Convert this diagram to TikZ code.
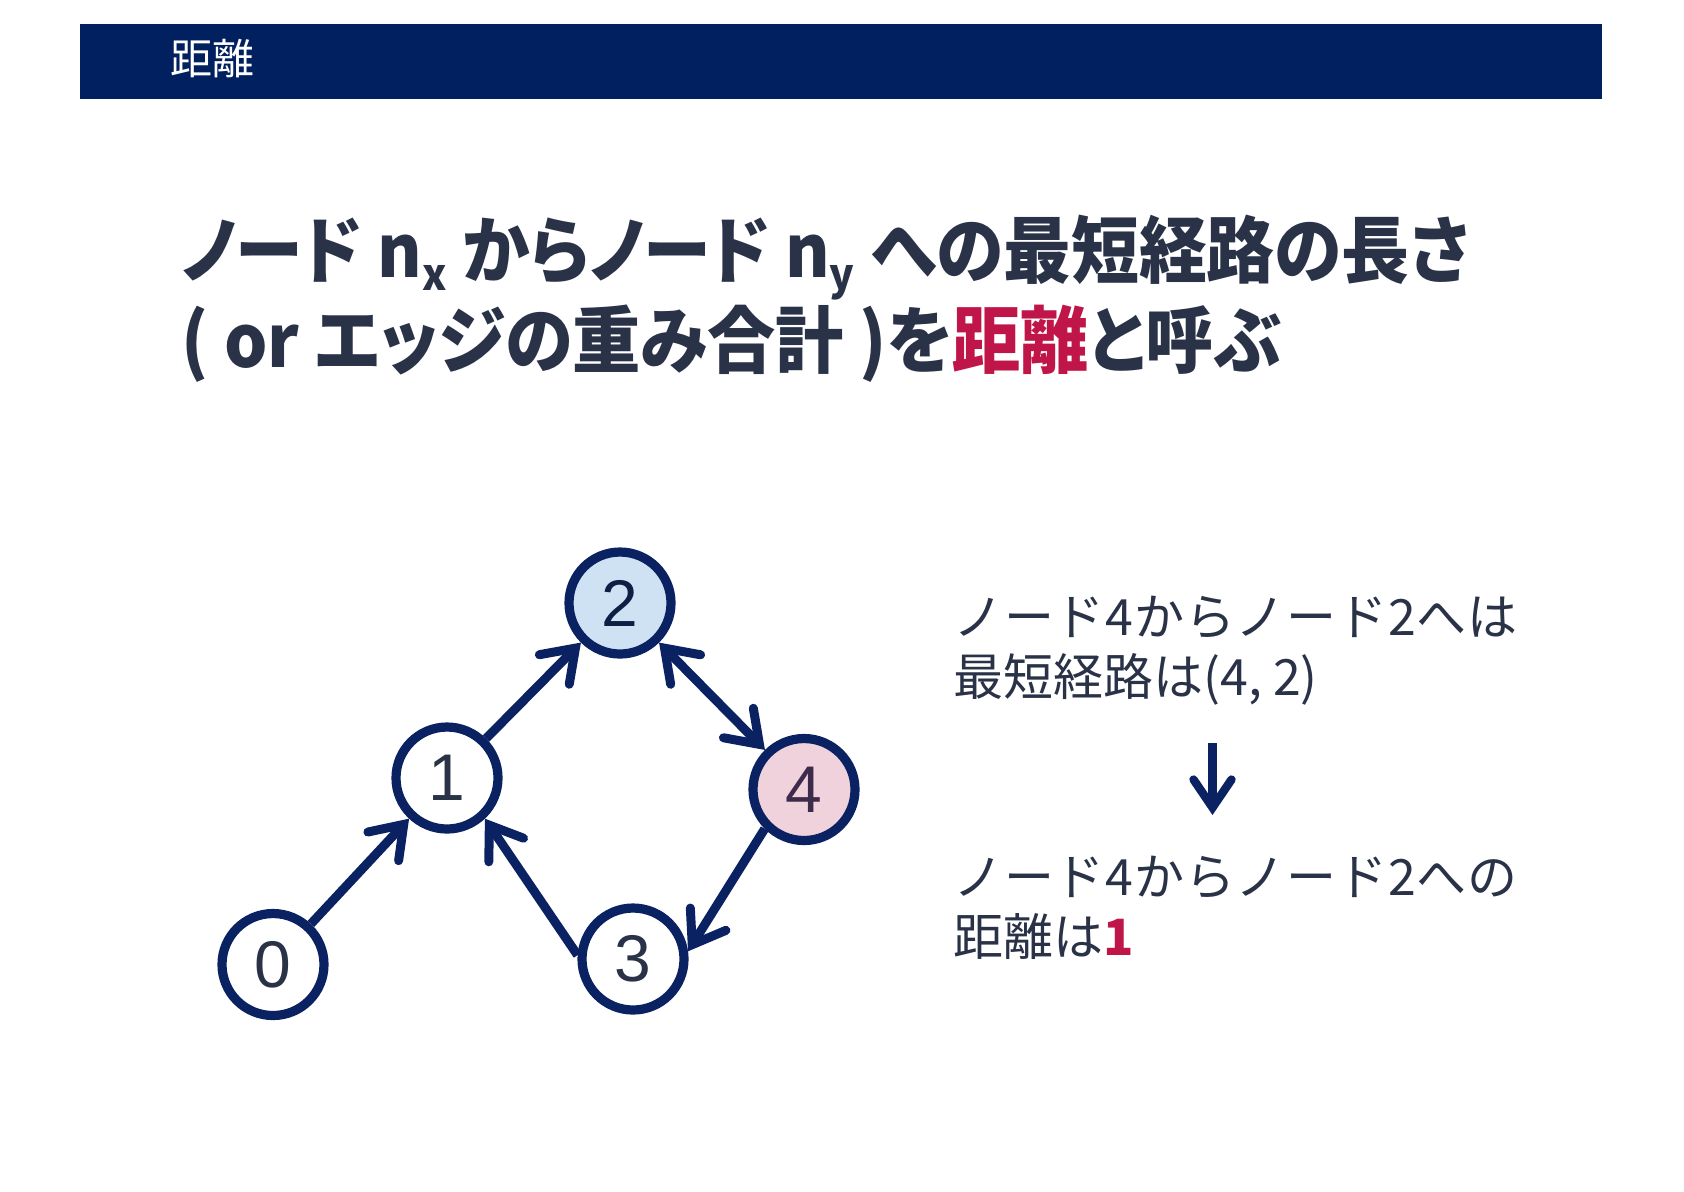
\documentclass[tikz,border=0pt]{standalone}
\usepackage{fontspec}
\setmainfont{Noto Sans CJK JP}
\newfontfamily\titlefont[RawFeature=+palt]{Noto Sans CJK JP}
\newfontfamily\arialfam{Liberation Sans}
\usetikzlibrary{arrows.meta}
\definecolor{barnavy}{HTML}{002060}
\definecolor{inkcol}{HTML}{2A3247}
\definecolor{accent}{HTML}{C01548}
\definecolor{bluefill}{HTML}{CFE2F3}
\definecolor{pinkfill}{HTML}{F0D2DC}
\definecolor{edgecol}{HTML}{0A2262}
\newcommand\subx[1]{\raisebox{-6.5pt}{\fontsize{22}{22}\selectfont #1}}
\begin{document}
\begin{tikzpicture}[x=0.5pt,y=-0.5pt,
  gnode/.style={circle, draw=edgecol, line width=4.6pt, minimum size=51pt, inner sep=0pt, fill=white,
    font=\arialfam\fontsize{33}{33}\selectfont, text=inkcol},
  barb/.tip={Straight Barb[length=15pt,width=21pt,line cap=round,line join=miter]},
  gedge/.style={draw=edgecol, line width=4.5pt, -barb},
  txt/.style={anchor=base west, inner sep=0pt, text=inkcol}]
\useasboundingbox (0,0) rectangle (1684,1191);
% header
\fill[barnavy] (80,24) rectangle (1602,99);
\node[anchor=west, inner sep=0pt, text=white, font=\fontsize{21}{21}\selectfont] (hdr) at (170,59) {距離};
% title
\node[txt, font=\titlefont\bfseries\fontsize{36.5}{36.5}\selectfont] (t1) at (181,277)
  {\scalebox{0.93}[1]{ノード n\subx{x} からノード n\subx{y} への最短経路の長さ}};
\node[txt, font=\titlefont\bfseries\fontsize{36.5}{36.5}\selectfont] (t2) at (181,367)
  {\scalebox{0.935}[1]{( or エッジの重み合計 )を\textcolor{accent}{距離}と呼ぶ}};
% graph
\node[gnode] (n0) at (273,964.5) {0};
\node[gnode] (n1) at (447,778) {1};
\node[gnode, fill=bluefill, text=black!30!barnavy!70!inkcol] (n2) at (620,603) {2};
\node[gnode] (n3) at (633,959) {3};
\node[gnode, fill=pinkfill, text={rgb,255:red,62;green,42;blue,74}] (n4) at (804,789.5) {4};
\draw[gedge] (n0) -- (n1);
\draw[gedge] (n1) -- (n2);
\draw[gedge, barb-barb] (n2) -- (n4);
\draw[gedge] (n4.225) -- (n3.8);
\draw[gedge] (n3.176) -- (n1.-47);
% right text
\node[txt, font=\fontsize{25}{25}\selectfont] (p1a) at (953,635)
  {\hbox to 282pt{ノ\hfil ー\hfil ド\hfil 4\hfil か\hfil ら\hfil ノ\hfil ー\hfil ド\hfil 2\hfil へ\hfil は}};
\node[txt, font=\fontsize{25}{25}\selectfont] (p1b) at (953,695) {最短経路は(4, 2)};
\coordinate (atop) at (1212.5,743);
\coordinate (abot) at (1212.5,815);
\draw[edgecol, line width=4.2pt, -{Straight Barb[length=14pt,width=19pt,line cap=round,line join=miter]}] (atop) -- (abot);
\node[txt, font=\fontsize{25}{25}\selectfont] (p2a) at (953,895)
  {\hbox to 282pt{ノ\hfil ー\hfil ド\hfil 4\hfil か\hfil ら\hfil ノ\hfil ー\hfil ド\hfil 2\hfil へ\hfil の}};
\node[txt, font=\fontsize{25}{25}\selectfont] (p2b) at (953,955) {距離は\textcolor{accent}{\bfseries 1}};
\end{tikzpicture}
\end{document}
